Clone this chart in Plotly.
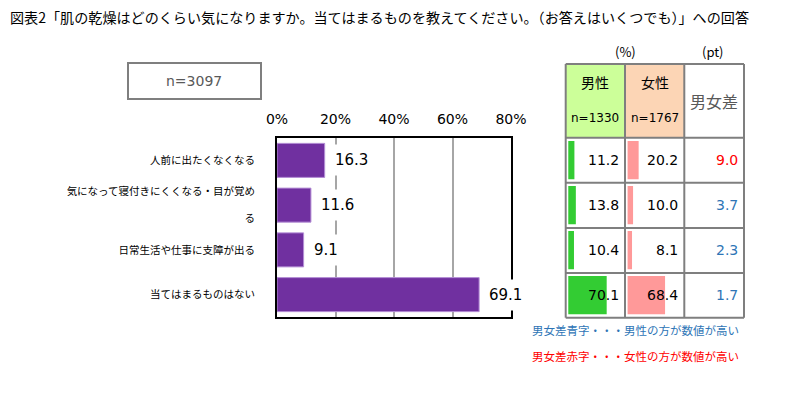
import plotly.graph_objects as go

W, H = 808, 399

title = "図表2「肌の乾燥はどのくらい気になりますか。当てはまるものを教えてください。（お答えはいくつでも）」への回答"
categories = ["人前に出たくなくなる", "気になって寝付きにくくなる・目が覚め<br> <br>る",
              "日常生活や仕事に支障が出る", "当てはまるものはない"]
total_values = [16.3, 11.6, 9.1, 69.1]
male_values = [11.2, 13.8, 10.4, 70.1]
female_values = [20.2, 10.0, 8.1, 68.4]
diff_values = [9.0, 3.7, 2.3, 1.7]
diff_higher = ["female", "male", "male", "male"]
x_ticks = [0, 20, 40, 60, 80]
x_tick_labels = ["0%", "20%", "40%", "60%", "80%"]
n_total = "n=3097"
male_header, male_n = "男性", "n=1330"
female_header, female_n = "女性", "n=1767"
diff_header = "男女差"
note_blue = "男女差青字・・・男性の方が数値が高い"
note_red = "男女差赤字・・・女性の方が数値が高い"

JP = "Noto Sans CJK JP"
NUM = "DejaVu Sans"
PURPLE = "#7030A0"
GREEN = "#33CC33"
PINK = "#FF9999"
BLUE = "#2E75B6"
RED = "#FF0000"
GRID = "#7F7F7F"


def px(x):
    return x / W


def py(y):
    return 1 - y / H


# layout geometry (pixels)
plot_l, plot_r, plot_t, plot_b = 277, 511, 138, 317
col_x = [565.7, 625, 684.3, 744]
tbl_top, hdr_bot, tbl_bot = 64, 137.7, 317.7

fig = go.Figure()

ycats = categories
fig.add_trace(go.Bar(
    x=total_values, y=ycats, orientation="h", width=0.76,
    marker=dict(color=PURPLE, line=dict(color="#B58FD6", width=1)),
    xaxis="x", yaxis="y", hoverinfo="skip"))

fig.add_trace(go.Bar(
    x=male_values, y=ycats, orientation="h", width=0.85,
    marker=dict(color=GREEN, line=dict(width=0)),
    xaxis="x2", yaxis="y2", hoverinfo="skip"))
fig.add_trace(go.Bar(
    x=female_values, y=ycats, orientation="h", width=0.85,
    marker=dict(color=PINK, line=dict(width=0)),
    xaxis="x3", yaxis="y2", hoverinfo="skip"))

annotations = []
# title
annotations.append(dict(text=title, x=px(8), y=py(17), xref="paper", yref="paper",
                        xanchor="left", yanchor="middle", showarrow=False,
                        font=dict(family=JP, size=14.1, color="#000000")))
# n box text
annotations.append(dict(text=n_total, x=px(194), y=py(81), xref="paper", yref="paper",
                        xanchor="center", yanchor="middle", showarrow=False,
                        font=dict(family=NUM, size=14, color="#595959")))
# value labels (white background covers gridlines)
for v, c in zip(total_values, ycats):
    annotations.append(dict(text=f"{v:.1f}", x=v, y=c, xref="x", yref="y",
                            xanchor="left", yanchor="middle", showarrow=False,
                            xshift=3, bgcolor="white", borderpad=6,
                            font=dict(family=NUM, size=15, color="#000000")))
# table values
for i, c in enumerate(ycats):
    annotations.append(dict(text=f"{male_values[i]:.1f}", x=1, y=c, xref="x2 domain", yref="y2",
                            xanchor="right", yanchor="middle", showarrow=False, xshift=-4,
                            font=dict(family=NUM, size=14, color="#000000")))
    annotations.append(dict(text=f"{female_values[i]:.1f}", x=1, y=c, xref="x3 domain", yref="y2",
                            xanchor="right", yanchor="middle", showarrow=False, xshift=-4,
                            font=dict(family=NUM, size=14, color="#000000")))
    annotations.append(dict(text=f"{diff_values[i]:.1f}", x=px(col_x[3]), y=c, xref="paper", yref="y2",
                            xanchor="right", yanchor="middle", showarrow=False, xshift=-4,
                            font=dict(family=NUM, size=14,
                                      color=RED if diff_higher[i] == "female" else BLUE)))
# table headers
for (x0, x1), head, n in [((col_x[0], col_x[1]), male_header, male_n),
                          ((col_x[1], col_x[2]), female_header, female_n)]:
    annotations.append(dict(text=head, x=px((x0 + x1) / 2), y=py(82), xref="paper", yref="paper",
                            xanchor="center", yanchor="middle", showarrow=False,
                            font=dict(family=JP, size=14, color="#000000")))
    annotations.append(dict(text=n, x=px((x0 + x1) / 2), y=py(118), xref="paper", yref="paper",
                            xanchor="center", yanchor="middle", showarrow=False,
                            font=dict(family=NUM, size=12, color="#000000")))
annotations.append(dict(text=diff_header, x=px((col_x[2] + col_x[3]) / 2), y=py(101),
                        xref="paper", yref="paper", xanchor="center", yanchor="middle",
                        showarrow=False, font=dict(family=JP, size=16, color="#595959")))
annotations.append(dict(text="(%)", x=px(625), y=py(51), xref="paper", yref="paper",
                        xanchor="center", yanchor="middle", showarrow=False,
                        font=dict(family=JP, size=13, color="#000000")))
annotations.append(dict(text="(pt)", x=px(713), y=py(51), xref="paper", yref="paper",
                        xanchor="center", yanchor="middle", showarrow=False,
                        font=dict(family=JP, size=13, color="#000000")))
annotations.append(dict(text=note_blue, x=px(741), y=py(330), xref="paper", yref="paper",
                        xanchor="right", yanchor="middle", showarrow=False,
                        font=dict(family=JP, size=11.5, color=BLUE)))
annotations.append(dict(text=note_red, x=px(741), y=py(356), xref="paper", yref="paper",
                        xanchor="right", yanchor="middle", showarrow=False,
                        font=dict(family=JP, size=11.5, color=RED)))

shapes = []
# n box
shapes.append(dict(type="rect", xref="paper", yref="paper", x0=px(128), x1=px(261),
                   y0=py(63), y1=py(99), line=dict(color=GRID, width=2)))
# header backgrounds
shapes.append(dict(type="rect", xref="paper", yref="paper", x0=px(col_x[0]), x1=px(col_x[1]),
                   y0=py(tbl_top), y1=py(hdr_bot), fillcolor="#CCFF99", line=dict(width=0),
                   layer="below"))
shapes.append(dict(type="rect", xref="paper", yref="paper", x0=px(col_x[1]), x1=px(col_x[2]),
                   y0=py(tbl_top), y1=py(hdr_bot), fillcolor="#FCD5B5", line=dict(width=0),
                   layer="below"))
# table grid lines
for xv in col_x:
    shapes.append(dict(type="line", xref="paper", yref="paper", x0=px(xv), x1=px(xv),
                       y0=py(tbl_top), y1=py(tbl_bot), line=dict(color=GRID, width=2)))
row_edges = [tbl_top, hdr_bot, 182.7, 228, 273, tbl_bot]
for yv in row_edges:
    shapes.append(dict(type="line", xref="paper", yref="paper", x0=px(col_x[0]), x1=px(col_x[3]),
                       y0=py(yv), y1=py(yv), line=dict(color=GRID, width=2)))

hidden = dict(showgrid=False, zeroline=False, showticklabels=False, showline=False, ticks="",
              automargin=False)

fig.update_layout(
    width=W, height=H, margin=dict(l=0, r=0, t=0, b=0, autoexpand=False),
    paper_bgcolor="white", plot_bgcolor="rgba(0,0,0,0)",
    showlegend=False, barmode="overlay",
    xaxis=dict(domain=[px(plot_l), px(plot_r)], range=[0, 80], side="top",
               tickvals=x_ticks, ticktext=x_tick_labels, showgrid=True,
               gridcolor="#A6A6A6", gridwidth=1.5, zeroline=False,
               showline=True, linecolor="#000000", linewidth=2, mirror=True,
               ticks="", ticklabelstandoff=6, automargin=False,
               tickfont=dict(family=NUM, size=14, color="#000000"), anchor="y"),
    yaxis=dict(domain=[py(plot_b), py(plot_t)], categoryorder="array",
               categoryarray=ycats[::-1], showgrid=False, zeroline=False,
               showline=True, linecolor="#000000", linewidth=2, mirror=True,
               ticks="", ticklabelstandoff=18, automargin=False,
               tickfont=dict(family=JP, size=10.5, color="#000000"), anchor="x"),
    xaxis2=dict(domain=[px(col_x[0]), px(col_x[1])], range=[-4.7, 103.5], anchor="y2", **hidden),
    xaxis3=dict(domain=[px(col_x[1]), px(col_x[2])], range=[-4.7, 103.5], anchor="y2", **hidden),
    yaxis2=dict(domain=[py(tbl_bot), py(hdr_bot)], categoryorder="array",
                categoryarray=ycats[::-1], anchor="x2", **hidden),
    annotations=annotations, shapes=shapes,
)

fig.write_html("out.html", config={"displayModeBar": False},
               post_script="document.body.style.margin='0px';")
